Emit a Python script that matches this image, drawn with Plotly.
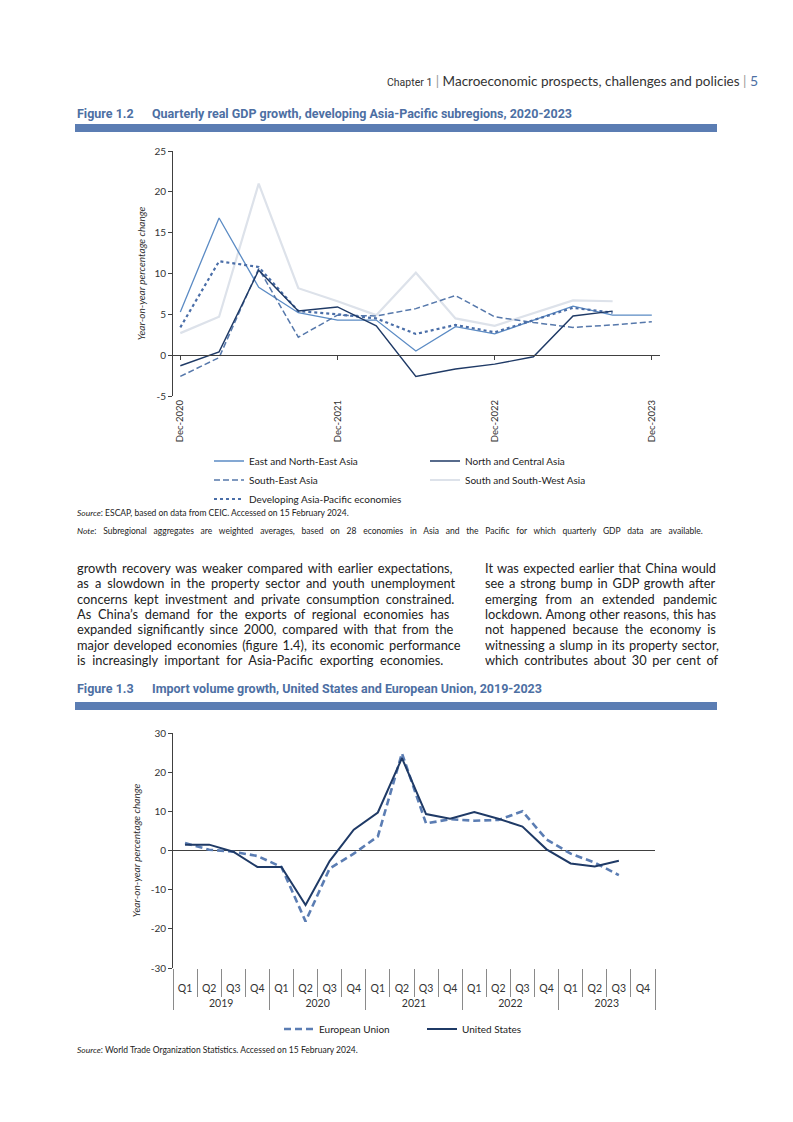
import plotly.graph_objects as go

W, H = 793, 1122

# ---------------- Figure 1.2 data ----------------
gdp_quarters = ["2020-12-01", "2021-03-01", "2021-06-01", "2021-09-01", "2021-12-01",
                "2022-03-01", "2022-06-01", "2022-09-01", "2022-12-01", "2023-03-01",
                "2023-06-01", "2023-09-01", "2023-12-01"]
east_north_east_asia = [5.3, 16.8, 8.3, 5.2, 4.3, 4.3, 0.5, 3.5, 2.6, 4.3, 6.0, 4.9, 4.9]
north_central_asia = [-1.3, 0.4, 10.4, 5.4, 5.9, 3.6, -2.6, -1.7, -1.1, -0.2, 4.8, 5.4, None]
south_east_asia = [-2.6, -0.3, 10.6, 2.2, 4.9, 4.8, 5.7, 7.3, 4.7, 4.0, 3.4, 3.7, 4.1]
south_south_west_asia = [2.7, 4.7, 21.0, 8.2, 6.6, 4.9, 10.1, 4.5, 3.6, 5.1, 6.7, 6.6, None]
developing_asia_pacific = [3.4, 11.5, 10.8, 5.4, 5.0, 4.5, 2.6, 3.7, 2.8, 4.3, 5.8, 5.2, None]
gdp_tick_dates = ["2020-12-01", "2021-12-01", "2022-12-01", "2023-12-01"]
gdp_y_ticks = [-5, 0, 5, 10, 15, 20, 25]

# ---------------- Figure 1.3 data ----------------
import_years = ["2019", "2020", "2021", "2022", "2023"]
quarter_names = ["Q1", "Q2", "Q3", "Q4"]
european_union = [1.9, 0.2, -0.3, -1.4, -4.2, -18.1, -4.6, -0.8, 3.6, 24.8,
                  6.9, 8.0, 7.6, 7.8, 10.0, 2.8, -0.8, -3.1, -6.3, None]
united_states = [1.5, 1.5, -0.3, -4.2, -4.2, -13.9, -2.7, 5.3, 9.7, 23.6,
                 9.3, 8.1, 9.8, 8.1, 6.1, 0.3, -3.3, -4.1, -2.6, None]
import_y_ticks = [-30, -20, -10, 0, 10, 20, 30]

# ---------------- Text ----------------
left_lines = [
    "growth recovery was weaker compared with earlier expectations,",
    "as a slowdown in the property sector and youth unemployment",
    "concerns kept investment and private consumption constrained.",
    "As China\u2019s demand for the exports of regional economies has",
    "expanded significantly since 2000, compared with that from the",
    "major developed economies (figure 1.4), its economic performance",
    "is increasingly important for Asia-Pacific exporting economies.",
]
right_lines = [
    "It was expected earlier that China would",
    "see a strong bump in GDP growth after",
    "emerging from an extended pandemic",
    "lockdown. Among other reasons, this has",
    "not happened because the economy is",
    "witnessing a slump in its property sector,",
    "which contributes about 30 per cent of",
]
# word spacing (px) used to imitate the justified paragraphs
left_word_spacing = [1.8, 2.7, 3.2, 3.5, 2.5, 1.7, 3.3]
right_word_spacing = [1.0, 1.6, 5.0, 0.5, 3.2, 1.0, 2.4]


def px_x(x):
    return x / W


def px_y(y):
    return 1 - y / H


TXT = "#333333"
AXC = "#404040"
BLUE_T = "#4d6fa3"
BAR = "#5b7db3"
FONT = "Lato"
TFONT = "Roboto"

fig = go.Figure()

# ---- Chart 1 traces ----
fig.add_trace(go.Scatter(x=gdp_quarters, y=south_south_west_asia, mode="lines",
                         name="South and South-West Asia", line=dict(color="#dde2ea", width=2.2),
                         legend="legend2", legendrank=2, xaxis="x", yaxis="y"))
fig.add_trace(go.Scatter(x=gdp_quarters, y=east_north_east_asia, mode="lines",
                         name="East and North-East Asia", line=dict(color="#5b8bc4", width=1.3),
                         legend="legend", legendrank=1, xaxis="x", yaxis="y"))
fig.add_trace(go.Scatter(x=gdp_quarters, y=south_east_asia, mode="lines",
                         name="South-East Asia", line=dict(color="#5678ab", width=1.5, dash="6px,3px"),
                         legend="legend", legendrank=2, xaxis="x", yaxis="y"))
fig.add_trace(go.Scatter(x=gdp_quarters, y=developing_asia_pacific, mode="lines",
                         name="Developing Asia-Pacific economies",
                         line=dict(color="#4a6ea8", width=2.2, dash="dot"),
                         legend="legend", legendrank=3, xaxis="x", yaxis="y"))
fig.add_trace(go.Scatter(x=gdp_quarters, y=north_central_asia, mode="lines",
                         name="North and Central Asia", line=dict(color="#1f3a66", width=1.4),
                         legend="legend2", legendrank=1, xaxis="x", yaxis="y"))

# ---- Chart 2 traces ----
x_year = ["<br>" + yr for yr in import_years for q in quarter_names]
x_quarter = [q for yr in import_years for q in quarter_names]
fig.add_trace(go.Scatter(x=[x_year, x_quarter], y=european_union, mode="lines",
                         name="European Union", line=dict(color="#5b7db3", width=2.6, dash="7px,4px"),
                         legend="legend3", xaxis="x2", yaxis="y2"))
fig.add_trace(go.Scatter(x=[x_year, x_quarter], y=united_states, mode="lines",
                         name="United States", line=dict(color="#1f3a66", width=2.0),
                         legend="legend3", xaxis="x2", yaxis="y2"))

# ---- Axes geometry ----
y1_dom = [px_y(396), px_y(151)]
y1_rng = [-5, 25]
zero1 = y1_dom[0] + (y1_dom[1] - y1_dom[0]) * (0 - y1_rng[0]) / (y1_rng[1] - y1_rng[0])

y2_dom = [px_y(968), px_y(733)]
y2_rng = [-30, 30]
zero2 = y2_dom[0] + (y2_dom[1] - y2_dom[0]) * (0 - y2_rng[0]) / (y2_rng[1] - y2_rng[0])
n_cat = len(x_quarter)
cat_bounds = [i - 0.5 for i in range(n_cat + 1)]
x2_dom = [px_x(173), px_x(655)]

fig.update_layout(
    template="none",
    width=W, height=H,
    margin=dict(l=0, r=0, t=0, b=0, pad=0, autoexpand=False),
    paper_bgcolor="white", plot_bgcolor="white",
    font=dict(family=FONT, size=10, color=TXT),
    xaxis=dict(domain=[px_x(173), px_x(660)], type="date",
               range=["2020-11-14", "2023-12-20"],
               anchor="free", position=zero1, automargin=False,
               showline=True, linecolor=AXC, linewidth=1,
               ticks="outside", ticklen=4, tickcolor=AXC, tickwidth=1,
               tickvals=gdp_tick_dates, tickformat="%b-%Y", tickangle=-90,
               tickfont=dict(size=9.5, color=TXT), ticklabelstandoff=36,
               showgrid=False, zeroline=False),
    yaxis=dict(domain=y1_dom, range=y1_rng, anchor="x", automargin=False,
               tickvals=gdp_y_ticks, ticktext=[str(v) for v in gdp_y_ticks],
               showline=True, linecolor=AXC, linewidth=1,
               ticks="outside", ticklen=4, tickcolor=AXC,
               tickfont=dict(size=10, color=TXT), showgrid=False, zeroline=False,
               title=dict(text="<i>Year-on-year percentage change</i>",
                          font=dict(size=10, color=TXT), standoff=6)),
    xaxis2=dict(domain=x2_dom, type="multicategory", anchor="y2", automargin=False,
                range=[cat_bounds[0], cat_bounds[-1]],
                showline=False, ticks="outside", tickson="boundaries", ticklen=28,
                tickcolor="#8a8a8a", tickwidth=1,
                tickfont=dict(size=10.5, color=TXT), ticklabelstandoff=12,
                showdividers=True, dividercolor="#8a8a8a", dividerwidth=1,
                showgrid=False, zeroline=False),
    xaxis3=dict(domain=x2_dom, type="linear", overlaying="x2", anchor="free", position=zero2,
                automargin=False, range=[cat_bounds[0], cat_bounds[-1]],
                tickvals=cat_bounds, ticks="outside", ticklen=4, tickcolor=AXC,
                showticklabels=False, showline=False, showgrid=False, zeroline=False),
    yaxis2=dict(domain=y2_dom, range=y2_rng, anchor="x2", automargin=False,
                tickvals=import_y_ticks, ticktext=[str(v) for v in import_y_ticks],
                showline=True, linecolor=AXC, linewidth=1,
                ticks="outside", ticklen=4, tickcolor=AXC,
                tickfont=dict(size=10, color=TXT), showgrid=False,
                zeroline=True, zerolinecolor=AXC, zerolinewidth=1,
                title=dict(text="<i>Year-on-year percentage change</i>",
                           font=dict(size=10, color=TXT), standoff=8)),
    legend=dict(x=px_x(209), y=px_y(446.5), xanchor="left", yanchor="top",
                orientation="v", font=dict(size=10, color="#222"), bgcolor="rgba(0,0,0,0)",
                itemwidth=30, traceorder="normal"),
    legend2=dict(x=px_x(425), y=px_y(446.5), xanchor="left", yanchor="top",
                 orientation="v", font=dict(size=10, color="#222"), bgcolor="rgba(0,0,0,0)",
                 itemwidth=30, traceorder="normal"),
    legend3=dict(x=px_x(279), y=px_y(1029), xanchor="left", yanchor="middle",
                 orientation="h", font=dict(size=10, color="#222"), bgcolor="rgba(0,0,0,0)",
                 itemwidth=30, entrywidth=98),
)

# ---- Decorations: header, figure titles, bars ----
shapes = [
    dict(type="rect", xref="paper", yref="paper", x0=px_x(75), x1=px_x(717),
         y0=px_y(132), y1=px_y(124), fillcolor=BAR, line=dict(width=0)),
    dict(type="rect", xref="paper", yref="paper", x0=px_x(75), x1=px_x(717),
         y0=px_y(710), y1=px_y(702), fillcolor=BAR, line=dict(width=0)),
]
fig.update_layout(shapes=shapes)

annotations = []
annotations.append(dict(
    xref="paper", yref="paper", x=px_x(760), y=px_y(81), xanchor="right", yanchor="middle",
    showarrow=False, font=dict(family=FONT, size=13.5, color=TXT),
    text=('<span style="font-family:Roboto;font-size:10.5px">Chapter 1</span>'
          '<span style="color:#999"> | </span>Macroeconomic prospects, challenges and policies'
          '<span style="color:#999"> | </span><span style="color:#4d6fa3;font-size:14px">5</span>')))

for label, title, ytitle in [("Figure 1.2", "Quarterly real GDP growth, developing Asia-Pacific subregions, 2020-2023", 113),
                             ("Figure 1.3", "Import volume growth, United States and European Union, 2019-2023", 688)]:
    annotations.append(dict(xref="paper", yref="paper", x=px_x(75), y=px_y(ytitle), xanchor="left",
                            yanchor="middle", showarrow=False, text="<b>" + label + "</b>",
                            font=dict(family=TFONT, size=12.5, color=BLUE_T)))
    annotations.append(dict(xref="paper", yref="paper", x=px_x(150), y=px_y(ytitle), xanchor="left",
                            yanchor="middle", showarrow=False, text="<b>" + title + "</b>",
                            font=dict(family=TFONT, size=12.5, color=BLUE_T)))

# Source / notes
notes = [
    ("<i>Source</i>: ESCAP, based on data from CEIC. Accessed on 15 February 2024.", 513, 0),
    ("<i>Note</i>: Subregional aggregates are weighted averages, based on 28 economies in Asia and the Pacific for which quarterly GDP data are available.", 531, 4.6),
    ("<i>Source</i>: World Trade Organization Statistics. Accessed on 15 February 2024.", 1050, 0),
]
for txt, yy, ws in notes:
    if ws:
        txt = '<span style="word-spacing:%spx">%s</span>' % (ws, txt)
    annotations.append(dict(xref="paper", yref="paper", x=px_x(75), y=px_y(yy), xanchor="left",
                            yanchor="middle", showarrow=False, text=txt,
                            font=dict(family=FONT, size=8.5, color="#222")))

# Body text
line_y0, line_step = 568, 15.35
for col_x, lines, spacing in [(75, left_lines, left_word_spacing), (483, right_lines, right_word_spacing)]:
    for i, ln in enumerate(lines):
        annotations.append(dict(xref="paper", yref="paper", x=px_x(col_x), y=px_y(line_y0 + i * line_step),
                                xanchor="left", yanchor="middle", showarrow=False,
                                text='<span style="word-spacing:%spx">%s</span>' % (spacing[i], ln),
                                font=dict(family=FONT, size=12.8, color="#222")))

fig.update_layout(annotations=annotations)

fig.write_html("out.html", config={"displayModeBar": False},
               post_script="document.body.style.margin='0px';")
